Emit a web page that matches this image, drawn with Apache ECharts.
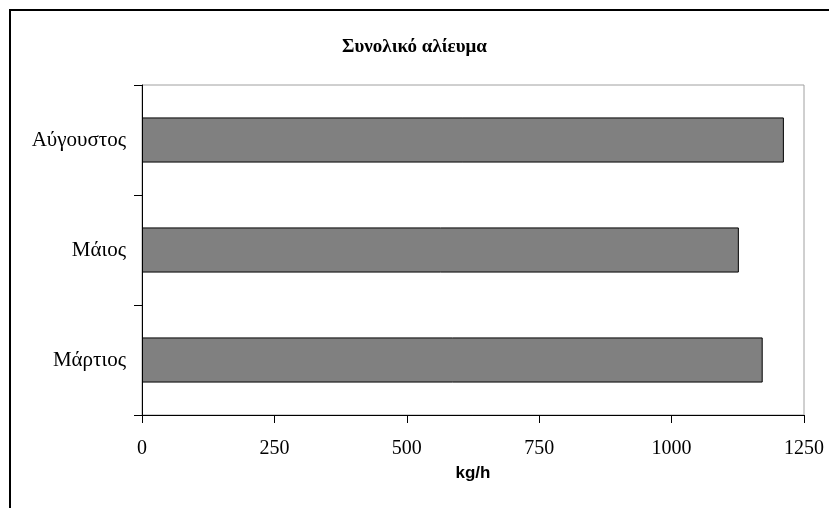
<!DOCTYPE html>
<html>
<head>
<meta charset="utf-8">
<script src="https://cdn.jsdelivr.net/npm/echarts@6/dist/echarts.min.js"></script>
<style>html,body{margin:0;padding:0;background:#fff}#c{width:829px;height:508px}</style>
</head>
<body>
<div id="c"></div>
<script>
const titleText = 'Συνολικό αλίευμα';
const categories = ['Μάρτιος', 'Μάιος', 'Αύγουστος'];
const values = [1172, 1127, 1212];
const xTicks = [0, 250, 500, 750, 1000, 1250];
const xName = 'kg/h';

const chart = echarts.init(document.getElementById('c'), null, {renderer: 'canvas'});
chart.setOption({
  animation: false,
  backgroundColor: '#ffffff',
  graphic: [{
    type: 'rect', z: 100, silent: true,
    shape: {x: 10, y: 10, width: 900, height: 600},
    style: {fill: 'none', stroke: '#000', lineWidth: 2}
  }],
  title: {
    text: titleText, left: 'center', top: 33,
    textStyle: {fontFamily: 'Liberation Serif', fontSize: 19, fontWeight: 'bold', color: '#000'}
  },
  grid: {left: 142, right: 25, top: 85, bottom: 93, show: true, borderColor: '#a0a0a0', borderWidth: 1, backgroundColor: 'transparent'},
  xAxis: {
    type: 'value', min: xTicks[0], max: xTicks[xTicks.length - 1], interval: xTicks[1] - xTicks[0],
    name: xName, nameLocation: 'middle', nameGap: 50,
    nameTextStyle: {fontFamily: 'Liberation Sans', fontSize: 17, fontWeight: 'bold', color: '#000'},
    axisLine: {show: true, lineStyle: {color: '#000', width: 1}},
    axisTick: {show: true, inside: false, length: 8, lineStyle: {color: '#000'}},
    axisLabel: {margin: 24, fontFamily: 'Liberation Serif', fontSize: 20, color: '#000', formatter: v => String(v)},
    splitLine: {show: false}
  },
  yAxis: {
    type: 'category', data: categories,
    axisLine: {show: true, lineStyle: {color: '#000', width: 1}},
    axisTick: {show: true, inside: false, length: 8, alignWithLabel: false, lineStyle: {color: '#000'}},
    axisLabel: {margin: 16, fontFamily: 'Liberation Serif', fontSize: 21, color: '#000'},
    splitLine: {show: false}
  },
  series: [{
    type: 'bar', data: values, barCategoryGap: '59%',
    itemStyle: {color: '#808080', borderColor: '#000', borderWidth: 1}
  }]
});
</script>
</body>
</html>
